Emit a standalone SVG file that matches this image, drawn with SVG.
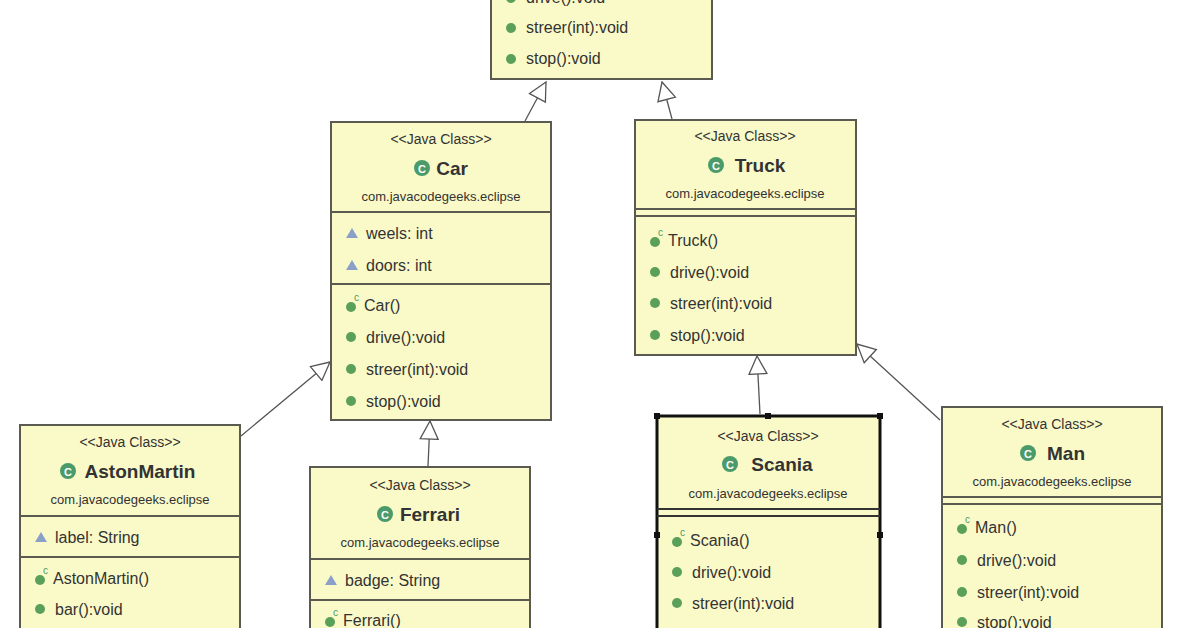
<svg xmlns="http://www.w3.org/2000/svg" width="1196" height="628" viewBox="0 0 1196 628">
<defs>
<style>
.box{fill:#fafac8;stroke:#5a5a50;stroke-width:2}
.sep{stroke:#5a5a50;stroke-width:2}
text{font-family:"Liberation Sans",Arial,sans-serif;fill:#333}
.st{font-size:14px;text-anchor:middle}
.nm{font-size:19px;font-weight:bold;text-anchor:middle}
.pk{font-size:13px;text-anchor:middle}
.it{font-size:16px}
.m{fill:#5aa05a}
.a{fill:#8aa0c8}
.edge{stroke:#555;stroke-width:1.3;fill:none}
</style>
<marker id="tri" viewBox="0 0 20 20" refX="19" refY="10" markerWidth="20" markerHeight="20" markerUnits="userSpaceOnUse" orient="auto"><path d="M1,1 L19,10 L1,19 Z" fill="#fff" stroke="#555" stroke-width="1.3"/></marker>
<g id="cg"><circle r="8" fill="#4a9a6a"/><text x="0" y="4.5" style="font-size:11px;font-weight:bold;fill:#fff;text-anchor:middle">C</text></g>
</defs>
<rect width="1196" height="628" fill="#fff"/>
<g id="connectors">
<path class="edge" d="M525,121 L546,82" marker-end="url(#tri)"/>
<path class="edge" d="M672,119 L662,82" marker-end="url(#tri)"/>
<path class="edge" d="M241,436 L330,362" marker-end="url(#tri)"/>
<path class="edge" d="M428,466 L430,421" marker-end="url(#tri)"/>
<path class="edge" d="M760,414 L757,356" marker-end="url(#tri)"/>
<path class="edge" d="M940,420 L857,344" marker-end="url(#tri)"/>
</g>
<g id="vehicle">
<rect class="box" x="491" y="-10" width="221" height="89"/>
<circle class="m" cx="511" cy="-2" r="5"/><text class="it" x="526" y="3">drive():void</text>
<circle class="m" cx="511" cy="28" r="5"/><text class="it" x="526" y="33">streer(int):void</text>
<circle class="m" cx="511" cy="59" r="5"/><text class="it" x="526" y="64">stop():void</text>
</g>
<g id="car">
<rect class="box" x="331" y="122" width="220" height="298"/>
<text class="st" x="441" y="144">&lt;&lt;Java Class&gt;&gt;</text>
<use href="#cg" x="422" y="168"/><text class="nm" x="452" y="175">Car</text>
<text class="pk" x="441" y="201">com.javacodegeeks.eclipse</text>
<line class="sep" x1="331" y1="212" x2="551" y2="212"/>
<path class="a" d="M346,238 L352,228 L358,238 Z"/><text class="it" x="366" y="239">weels: int</text>
<path class="a" d="M346,270 L352,260 L358,270 Z"/><text class="it" x="366" y="271">doors: int</text>
<line class="sep" x1="331" y1="284" x2="551" y2="284"/>
<circle class="m" cx="351" cy="307" r="5"/><text style="font-size:10px;fill:#4a9a6a" x="354" y="301">c</text><text class="it" x="364" y="311">Car()</text>
<circle class="m" cx="351" cy="337" r="5"/><text class="it" x="366" y="343">drive():void</text>
<circle class="m" cx="351" cy="369" r="5"/><text class="it" x="366" y="375">streer(int):void</text>
<circle class="m" cx="351" cy="401" r="5"/><text class="it" x="366" y="407">stop():void</text>
</g>
<g id="truck">
<rect class="box" x="635" y="120" width="221" height="235"/>
<text class="st" x="745" y="141">&lt;&lt;Java Class&gt;&gt;</text>
<use href="#cg" x="716" y="165"/><text class="nm" x="760" y="172">Truck</text>
<text class="pk" x="745" y="198">com.javacodegeeks.eclipse</text>
<line class="sep" x1="635" y1="209" x2="856" y2="209"/>
<line class="sep" x1="635" y1="216" x2="856" y2="216"/>
<circle class="m" cx="655" cy="242" r="5"/><text style="font-size:10px;fill:#4a9a6a" x="658" y="236">c</text><text class="it" x="668" y="246">Truck()</text>
<circle class="m" cx="655" cy="272" r="5"/><text class="it" x="670" y="278">drive():void</text>
<circle class="m" cx="655" cy="303" r="5"/><text class="it" x="670" y="309">streer(int):void</text>
<circle class="m" cx="655" cy="335" r="5"/><text class="it" x="670" y="341">stop():void</text>
</g>
<g id="astonmartin">
<rect class="box" x="20" y="425" width="220" height="215"/>
<text class="st" x="130" y="447">&lt;&lt;Java Class&gt;&gt;</text>
<use href="#cg" x="68" y="471"/><text class="nm" x="140" y="478">AstonMartin</text>
<text class="pk" x="130" y="504">com.javacodegeeks.eclipse</text>
<line class="sep" x1="20" y1="516" x2="240" y2="516"/>
<path class="a" d="M35,542 L41,532 L47,542 Z"/><text class="it" x="55" y="543">label: String</text>
<line class="sep" x1="20" y1="557" x2="240" y2="557"/>
<circle class="m" cx="40" cy="580" r="5"/><text style="font-size:10px;fill:#4a9a6a" x="43" y="574">c</text><text class="it" x="53" y="584">AstonMartin()</text>
<circle class="m" cx="40" cy="609" r="5"/><text class="it" x="55" y="615">bar():void</text>
</g>
<g id="ferrari">
<rect class="box" x="310" y="467" width="220" height="175"/>
<text class="st" x="420" y="490">&lt;&lt;Java Class&gt;&gt;</text>
<use href="#cg" x="385" y="514"/><text class="nm" x="430" y="521">Ferrari</text>
<text class="pk" x="420" y="547">com.javacodegeeks.eclipse</text>
<line class="sep" x1="310" y1="559" x2="530" y2="559"/>
<path class="a" d="M325,585 L331,575 L337,585 Z"/><text class="it" x="345" y="586">badge: String</text>
<line class="sep" x1="310" y1="600" x2="530" y2="600"/>
<circle class="m" cx="330" cy="622" r="5"/><text style="font-size:10px;fill:#4a9a6a" x="333" y="616">c</text><text class="it" x="343" y="626">Ferrari()</text>
</g>
<g id="scania">
<rect class="box" x="657" y="416" width="223" height="230" style="stroke:#111;stroke-width:3"/>
<text class="st" x="768" y="441">&lt;&lt;Java Class&gt;&gt;</text>
<use href="#cg" x="730" y="464"/><text class="nm" x="782" y="471">Scania</text>
<text class="pk" x="768" y="498">com.javacodegeeks.eclipse</text>
<line class="sep" x1="657" y1="509" x2="880" y2="509" style="stroke:#333"/>
<line class="sep" x1="657" y1="516" x2="880" y2="516" style="stroke:#333"/>
<g fill="#111"><rect x="654" y="413" width="6" height="6"/><rect x="765" y="413" width="6" height="6"/><rect x="877" y="413" width="6" height="6"/><rect x="654" y="532" width="6" height="6"/><rect x="877" y="532" width="6" height="6"/></g>
<circle class="m" cx="677" cy="542" r="5"/><text style="font-size:10px;fill:#4a9a6a" x="680" y="536">c</text><text class="it" x="690" y="546">Scania()</text>
<circle class="m" cx="677" cy="572" r="5"/><text class="it" x="692" y="578">drive():void</text>
<circle class="m" cx="677" cy="603" r="5"/><text class="it" x="692" y="609">streer(int):void</text>
<circle class="m" cx="677" cy="634" r="5"/><text class="it" x="692" y="640">stop():void</text>
</g>
<g id="man">
<rect class="box" x="942" y="407" width="220" height="235"/>
<text class="st" x="1052" y="429">&lt;&lt;Java Class&gt;&gt;</text>
<use href="#cg" x="1028" y="453"/><text class="nm" x="1066" y="460">Man</text>
<text class="pk" x="1052" y="486">com.javacodegeeks.eclipse</text>
<line class="sep" x1="942" y1="497" x2="1162" y2="497"/>
<line class="sep" x1="942" y1="504" x2="1162" y2="504"/>
<circle class="m" cx="962" cy="529" r="5"/><text style="font-size:10px;fill:#4a9a6a" x="965" y="523">c</text><text class="it" x="975" y="533">Man()</text>
<circle class="m" cx="962" cy="560" r="5"/><text class="it" x="977" y="566">drive():void</text>
<circle class="m" cx="962" cy="592" r="5"/><text class="it" x="977" y="598">streer(int):void</text>
<circle class="m" cx="962" cy="622" r="5"/><text class="it" x="977" y="628">stop():void</text>
</g>
</svg>
